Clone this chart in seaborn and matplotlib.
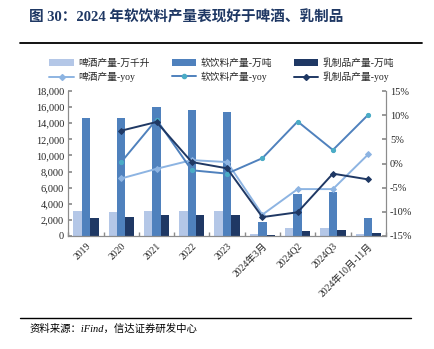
import numpy as np
import pandas as pd
import matplotlib
matplotlib.use("Agg")
import matplotlib.pyplot as plt
from matplotlib.lines import Line2D
from matplotlib.patches import Patch
from matplotlib.ticker import FuncFormatter, MultipleLocator
import seaborn as sns

# ---- data ----
categories = ["2019", "2020", "2021", "2022", "2023", "2024年3月",
              "2024Q2", "2024Q3", "2024年10月-11月"]
beer_output = [3100, 3000, 3050, 3050, 3050, 200, 950, 1000, 250]        # 万千升
soft_drink_output = [14700, 14700, 16000, 15700, 15400, 1700, 5200, 5400, 2200]  # 万吨
dairy_output = [2200, 2350, 2600, 2600, 2550, 100, 600, 700, 400]        # 万吨
beer_yoy = [np.nan, -3.1, -1.1, 0.7, 0.3, -10.6, -5.3, -5.3, 1.9]          # %
soft_drink_yoy = [np.nan, 0.3, 9.1, -1.4, -2.1, 1.1, 8.7, 2.8, 10.1]       # %
dairy_yoy = [np.nan, 6.8, 8.6, 0.3, -1.0, -11.1, -10.1, -2.1, -3.3]        # %

bar_names = ["啤酒产量-万千升", "软饮料产量-万吨", "乳制品产量-万吨"]
line_names = ["啤酒产量-yoy", "软饮料产量-yoy", "乳制品产量-yoy"]
title = "图 30：2024 年软饮料产量表现好于啤酒、乳制品"
source = "资料来源：iFind，信达证券研发中心"

bar_colors = ["#B4C7E7", "#4F81BD", "#1F3864"]
line_colors = ["#8DB4E2", "#4F81BD", "#1F3864"]
marker_colors = ["#8DB4E2", "#4BACC6", "#1F3864"]
markers = ["D", "o", "D"]

sns.set_theme(style="white")
plt.rcParams["font.family"] = ["Liberation Serif", "Noto Sans CJK SC", "DejaVu Sans"]
plt.rcParams["axes.unicode_minus"] = False

bars = pd.DataFrame({
    "category": np.tile(categories, 3),
    "series": np.repeat(bar_names, len(categories)),
    "value": beer_output + soft_drink_output + dairy_output,
})

fig = plt.figure(figsize=(4.35, 3.49), dpi=100)
ax = fig.add_axes([0.157, 0.324, 0.73, 0.415])

sns.barplot(data=bars, x="category", y="value", hue="series", order=categories,
            hue_order=bar_names, palette=bar_colors, width=0.72, dodge=True,
            saturation=1, errorbar=None, ax=ax, legend=False, linewidth=0)

ax.set_ylim(0, 18000)
ax.yaxis.set_major_locator(MultipleLocator(2000))
ax.yaxis.set_major_formatter(FuncFormatter(lambda v, p: f"{int(v):,}"))
ax.set_xlabel("")
ax.set_ylabel("")
ax.set_xlim(-0.5, len(categories) - 0.5)

ax2 = ax.twinx()
x_pos = np.arange(len(categories))
for vals, name, lc, mc, mk in zip([beer_yoy, soft_drink_yoy, dairy_yoy], line_names,
                                  line_colors, marker_colors, markers):
    df = pd.DataFrame({"x": x_pos, "y": vals}).dropna()
    sns.lineplot(data=df, x="x", y="y", ax=ax2, color=lc, linewidth=1.4,
                 marker=mk, markersize=3, markerfacecolor=mc,
                 markeredgecolor=mc, legend=False)
ax2.set_ylim(-15, 15)
ax2.yaxis.set_major_locator(MultipleLocator(5))
ax2.yaxis.set_major_formatter(FuncFormatter(lambda v, p: f"{int(round(v))}%"))
ax2.set_xlabel("")
ax2.set_ylabel("")
ax2.set_xlim(-0.5, len(categories) - 0.5)

spine_color = "#8C8C8C"
for a in (ax, ax2):
    for side, sp in a.spines.items():
        sp.set_color(spine_color)
        sp.set_linewidth(0.8)
    a.spines["top"].set_visible(False)
    a.grid(False)

ax.tick_params(axis="y", direction="in", length=3, color=spine_color,
               labelsize=7.5, pad=3, left=True)
ax2.tick_params(axis="y", direction="in", length=3, color=spine_color,
                labelsize=7.5, pad=3, right=True)
ax.set_xticks(x_pos)
ax.set_xticklabels(categories, rotation=45, ha="right", rotation_mode="anchor",
                   fontsize=7)
ax.tick_params(axis="x", length=0, pad=4)
# separators between category groups on the x axis
ax.set_xticks(np.arange(len(categories) + 1) - 0.5, minor=True)
ax.tick_params(axis="x", which="minor", direction="in", length=3,
               color=spine_color, bottom=True)

# legend: bars on the first row, yoy lines on the second
handles = []
labels = []
for i in range(3):
    handles.append(Patch(facecolor=bar_colors[i], edgecolor="none"))
    labels.append(bar_names[i])
    handles.append(Line2D([0], [0], color=line_colors[i], linewidth=1.4,
                          marker=markers[i], markersize=3,
                          markerfacecolor=marker_colors[i],
                          markeredgecolor=marker_colors[i]))
    labels.append(line_names[i])
fig.legend(handles, labels, ncol=3, loc="center", bbox_to_anchor=(0.51, 0.799),
           frameon=False, fontsize=7, handlelength=2.5, handleheight=0.6,
           columnspacing=2.2, labelspacing=0.35, handletextpad=0.5)

fig.text(0.067, 0.951, title, fontsize=10.5, fontweight="bold", color="#1F3864",
         ha="left", va="center")
fig.add_artist(Line2D([0.046, 0.970], [0.877, 0.877], color="black",
                      linewidth=1.3, transform=fig.transFigure))
fig.add_artist(Line2D([0.046, 0.945], [0.089, 0.089], color="black",
                      linewidth=1.0, transform=fig.transFigure))
fig.text(0.067, 0.058, source, fontsize=7.5, style="italic", color="black",
         ha="left", va="center")

fig.savefig("out.png", dpi=100)
